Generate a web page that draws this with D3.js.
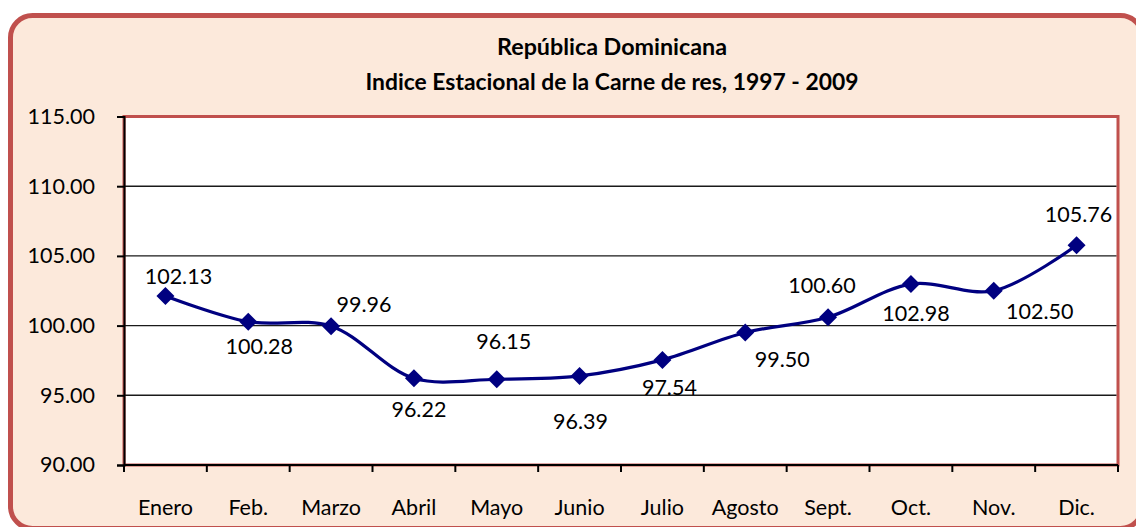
<!DOCTYPE html>
<html>
<head>
<meta charset="utf-8">
<script src="https://cdn.jsdelivr.net/npm/d3@7"></script>
<style>
  html, body { margin: 0; padding: 0; background: #ffffff; }
  svg { display: block; }
  text { font-family: Lato, "Noto Sans", sans-serif; fill: #000; }
</style>
</head>
<body>
<script>
// ---- data ----
const categories = ["Enero", "Feb.", "Marzo", "Abril", "Mayo", "Junio", "Julio", "Agosto", "Sept.", "Oct.", "Nov.", "Dic."];
const values = [102.13, 100.28, 99.96, 96.22, 96.15, 96.39, 97.54, 99.50, 100.60, 102.98, 102.50, 105.76];
const yTicks = [90, 95, 100, 105, 110, 115];
const titleLines = ["República Dominicana", "Indice Estacional de la Carne de res, 1997 - 2009"];
// data label placement (offset of label center from marker, px)
const labelDx = [13, 11, 33, 5, 7, 1, 7, 37, -6, 5, 46, 2];
const labelDy = [-20, 24, -22, 31, -38, 45, 27, 26, -32, 29, 20, -31];

// ---- layout ----
const W = 1136, H = 527;
const plot = { left: 124, top: 116.5, right: 1118, bottom: 465 };
const red = "#C0504D", navy = "#000080";
const titleWidths = [230, 493];
const fs = "21.5px";

const svg = d3.select("body").append("svg").attr("width", W).attr("height", H);

// outer chart area
svg.append("rect")
  .attr("x", 10.5).attr("y", 15.5)
  .attr("width", 1132).attr("height", 513)
  .attr("rx", 22).attr("ry", 22)
  .attr("fill", "#FCE9DB").attr("stroke", red).attr("stroke-width", 5);

// title
svg.selectAll("text.title").data(titleLines).join("text")
  .attr("class", "title")
  .attr("x", 612).attr("y", (d, i) => 46 + i * 35)
  .attr("text-anchor", "middle").attr("dominant-baseline", "central")
  .attr("textLength", (d, i) => titleWidths[i]).attr("lengthAdjust", "spacingAndGlyphs")
  .style("font-weight", "bold").style("font-size", "22.5px")
  .text(d => d);

const x = d3.scaleBand().domain(categories).range([plot.left, plot.right]).padding(0);
const y = d3.scaleLinear().domain([90, 115]).range([plot.bottom, plot.top]);

// plot area
svg.append("rect")
  .attr("x", plot.left).attr("y", plot.top)
  .attr("width", plot.right - plot.left).attr("height", plot.bottom - plot.top)
  .attr("fill", "#ffffff").attr("stroke", red).attr("stroke-width", 3);

// gridlines
svg.append("g").selectAll("line").data(yTicks.filter(t => t > 90 && t < 115)).join("line")
  .attr("x1", plot.left).attr("x2", plot.right - 1.5)
  .attr("y1", d => y(d)).attr("y2", d => y(d))
  .attr("stroke", "#1a1a1a").attr("stroke-width", 1.4);

// y axis
const yAxis = svg.append("g").attr("transform", `translate(${plot.left},0)`)
  .call(d3.axisLeft(y).tickValues(yTicks).tickSize(7).tickPadding(22).tickFormat(d3.format(".2f")));
yAxis.select(".domain").attr("stroke", "#000").attr("stroke-width", 2);
yAxis.selectAll(".tick line").attr("stroke", "#000").attr("stroke-width", 2);
yAxis.selectAll(".tick text").style("font-size", fs).style("font-family", "Lato, 'Noto Sans', sans-serif").attr("fill", "#000");

// x axis: ticks at category boundaries
const xAxisG = svg.append("g").attr("transform", `translate(0,${plot.bottom})`);
xAxisG.append("line").attr("x1", plot.left).attr("x2", plot.right)
  .attr("stroke", "#000").attr("stroke-width", 2);
const bounds = categories.map(c => x(c)).concat([x(categories[categories.length - 1]) + x.bandwidth()]);
xAxisG.selectAll("line.tk").data(bounds).join("line").attr("class", "tk")
  .attr("x1", d => d).attr("x2", d => d).attr("y1", 0).attr("y2", 7)
  .attr("stroke", "#000").attr("stroke-width", 2);
xAxisG.selectAll("text").data(categories).join("text")
  .attr("x", d => x(d) + x.bandwidth() / 2).attr("y", 42)
  .attr("text-anchor", "middle").attr("dominant-baseline", "central")
  .style("font-size", fs)
  .text(d => d);

// line
const pts = categories.map((c, i) => [x(c) + x.bandwidth() / 2, y(values[i])]);
svg.append("path")
  .attr("d", d3.line().curve(d3.curveCatmullRom.alpha(0.5))(pts))
  .attr("fill", "none").attr("stroke", navy).attr("stroke-width", 3.2);

// markers
const diamond = "M0,-9L9,0L0,9L-9,0Z";
svg.append("g").selectAll("path").data(pts).join("path")
  .attr("transform", d => `translate(${d[0]},${d[1]})`)
  .attr("d", diamond).attr("fill", navy);

// data labels
svg.append("g").selectAll("text").data(values).join("text")
  .attr("x", (d, i) => pts[i][0] + labelDx[i])
  .attr("y", (d, i) => pts[i][1] + labelDy[i])
  .attr("text-anchor", "middle").attr("dominant-baseline", "central")
  .style("font-size", fs)
  .text(d => d.toFixed(2));
</script>
</body>
</html>
